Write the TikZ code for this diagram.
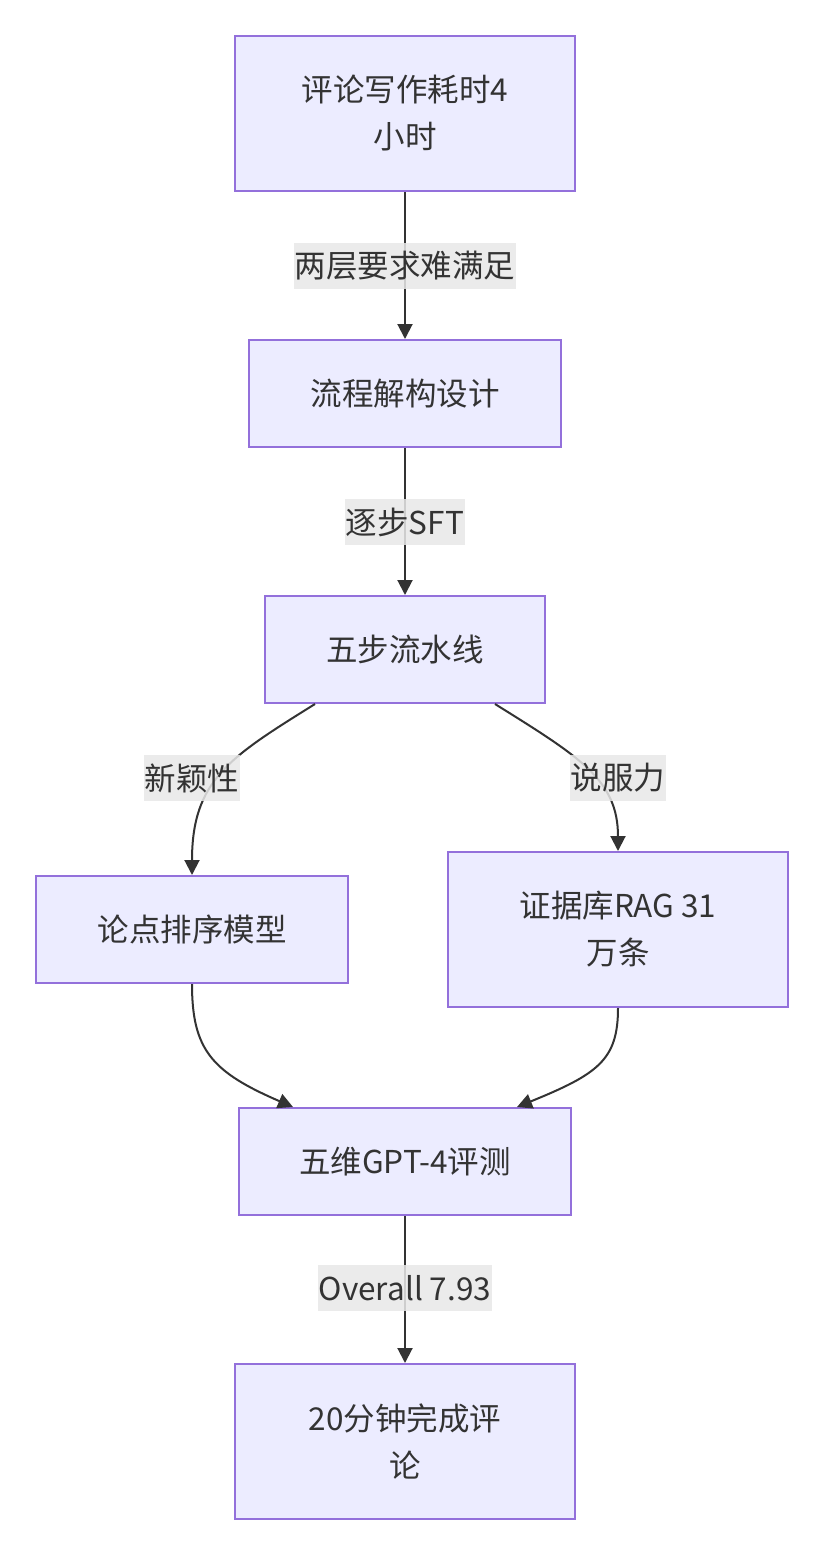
\documentclass[tikz,border=0pt]{standalone}
\usepackage{fontspec}
\setmainfont{Noto Sans CJK SC}
\usetikzlibrary{arrows.meta}
\definecolor{boxfill}{HTML}{ECECFF}
\definecolor{boxline}{HTML}{9370DB}
\definecolor{edgecol}{HTML}{333333}
\definecolor{lblbg}{HTML}{E8E8E8}
\begin{document}
\begin{tikzpicture}[x=1pt,y=-1pt,
  box/.style={draw=boxline,fill=boxfill,line width=2pt,align=center,inner sep=0pt,
    font=\fontsize{31.5}{47}\selectfont,text=edgecol},
  lbl/.style={fill=lblbg,fill opacity=0.85,text opacity=1,inner xsep=1pt,inner ysep=0pt,
    minimum height=46pt,font=\fontsize{31.5}{47}\selectfont,text=edgecol},
  edge/.style={draw=edgecol,line width=2pt,-{Triangle[length=15pt,width=15pt]}}]
\useasboundingbox (0,0) rectangle (824,1556);
\fill[white] (0,0) rectangle (824,1556);
\node[box,minimum width=340pt,minimum height=155pt] (n1) at (405,113.5) {评论写作耗时4\\小时};
\node[box,minimum width=312pt,minimum height=107pt] (n2) at (405,393.5) {流程解构设计};
\node[box,minimum width=280pt,minimum height=107pt] (n3) at (405,649.5) {五步流水线};
\node[box,minimum width=312pt,minimum height=107pt] (n4) at (192,929.5) {论点排序模型};
\node[box,minimum width=340pt,minimum height=155pt] (n5) at (618,929.5) {证据库RAG 31\\万条};
\node[box,minimum width=332pt,minimum height=107pt] (n6) at (405,1161.5) {五维GPT-4评测};
\node[box,minimum width=340pt,minimum height=155pt] (n7) at (405,1441.5) {20分钟完成评\\论};
\draw[edge] (n1.south) -- (n2.north);
\draw[edge] (n2.south) -- (n3.north);
\draw[edge] ([xshift=-90pt]n3.south) .. controls (230,757) and (192,780) .. (n4.north);
\draw[edge] ([xshift=90pt]n3.south) .. controls (580,757) and (618,780) .. (n5.north);
\draw[edge] (n4.south) .. controls (192,1050) and (212,1072) .. ([xshift=-112pt]n6.north);
\draw[edge] (n5.south) .. controls (618,1060) and (598,1074) .. ([xshift=112pt]n6.north);
\draw[edge] (n6.south) -- (n7.north);
\node[lbl] (l1) at (405,266) {两层要求难满足};
\node[lbl] (l2) at (405,522) {逐步SFT};
\node[lbl] (l3) at (192,778) {新颖性};
\node[lbl] (l4) at (618,778) {说服力};
\node[lbl] (l5) at (405,1288) {Overall 7.93};
\end{tikzpicture}
\end{document}
